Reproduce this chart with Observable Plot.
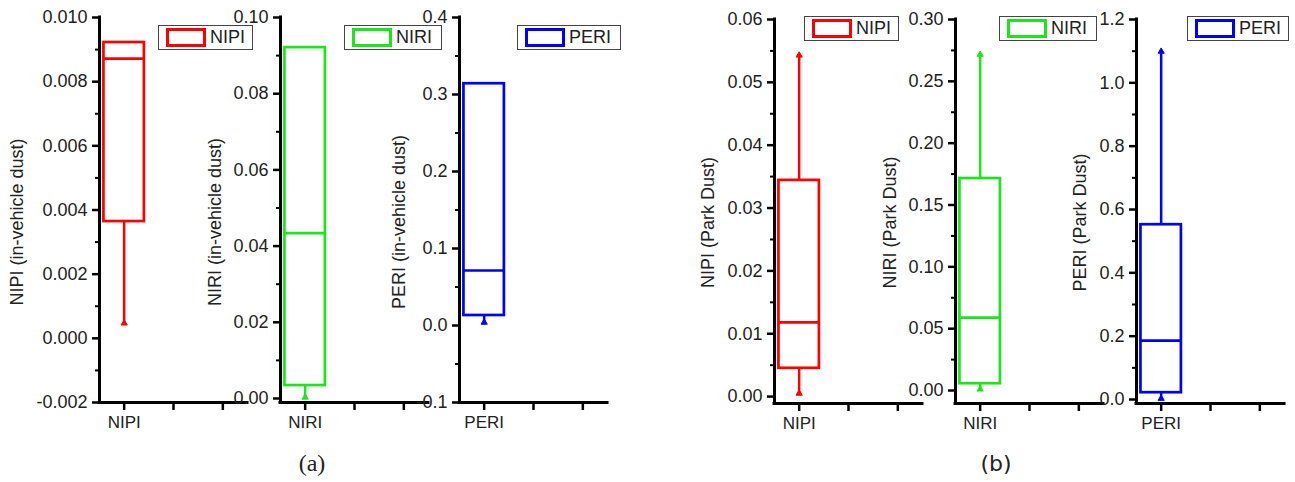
<!DOCTYPE html>
<html><head><meta charset="utf-8">
<script src="https://cdn.jsdelivr.net/npm/d3@7"></script>
<script src="https://cdn.jsdelivr.net/npm/@observablehq/plot@0.6"></script>
<style>
body{margin:0;background:#fff;}
#root{position:relative;width:1295px;height:482px;overflow:hidden;font-family:"Liberation Sans",Arial,sans-serif;background:#fff;}
.panel{position:absolute;top:0;}
.legend{position:absolute;border:1px solid #444;background:#fff;box-sizing:border-box;font-size:18px;color:#222;display:flex;align-items:center;}
.swatch{box-sizing:border-box;border:3px solid;height:19px;width:40px;margin-left:7px;margin-right:4px;}
.caption{position:absolute;color:#222;transform:translate(-50%,-50%);}
</style></head><body><div id="root"></div>
<script>
// ---------- data ----------
const categories = ["NIPI", "NIRI", "PERI"];
const vehicleTitles = ["NIPI (in-vehicle dust)", "NIRI (in-vehicle dust)", "PERI (in-vehicle dust)"];
const parkTitles = ["NIPI (Park Dust)", "NIRI (Park Dust)", "PERI (Park Dust)"];
const captions = ["(a)", "(b)"];

const vehicleMin    = [0.00047, 0.0003, 0.004];
const vehicleQ1     = [0.00364, 0.0034, 0.0130];
const vehicleMedian = [0.00872, 0.0434, 0.0714];
const vehicleQ3     = [0.00922, 0.0921, 0.314];
const vehicleMax    = [0.00922, 0.0921, 0.314];

const parkMin    = [0.0005, 0.0010, 0.003];
const parkQ1     = [0.0045, 0.0055, 0.0215];
const parkMedian = [0.0118, 0.0589, 0.186];
const parkQ3     = [0.0344, 0.1714, 0.552];
const parkMax    = [0.0543, 0.2717, 1.099];

const vehicleDomains = [[-0.002, 0.010], [-0.00105, 0.10], [-0.1, 0.4]];
const parkDomains    = [[-0.0011, 0.06], [-0.0105, 0.30], [-0.0126, 1.2]];
const vehicleTicks = [
  [-0.002, 0, 0.002, 0.004, 0.006, 0.008, 0.010],
  [0, 0.02, 0.04, 0.06, 0.08, 0.10],
  [-0.1, 0, 0.1, 0.2, 0.3, 0.4]
];
const parkTicks = [
  [0, 0.01, 0.02, 0.03, 0.04, 0.05, 0.06],
  [0, 0.05, 0.10, 0.15, 0.20, 0.25, 0.30],
  [0, 0.2, 0.4, 0.6, 0.8, 1.0, 1.2]
];
const vehicleDecimals = [3, 2, 1];
const parkDecimals = [2, 2, 1];
const xTickPositions = [1, 2, 3];

// ---------- styles / layout ----------
const colors = ["#ff0000", "#1be61b", "#0000ff"];
const layout = {
  vehicle: {axisX: [99, 280, 459], top: 17, bottom: 402, titleOff: [82, 65, 60], dy: 12,
            legend: [[158, 25, 95, 25], [344, 25, 98, 25], [517, 25, 104, 25]]},
  park:    {axisX: [774, 955, 1136], top: 19, bottom: 403, titleOff: [66, 65, 56], dy: 11,
            legend: [[804, 16, 95, 25], [999, 16, 98, 25], [1187, 16, 102, 25]]}
};

const root = document.getElementById("root");

function panel(opts) {
  const mL = 95, mR = 10, plotW = 148, mB = 45;
  const fmt = d => d3.format(`.${opts.dec}f`)(d).replace("\u2212", "-");
  const minor = d3.pairs(opts.ticks).map(([a, b]) => (a + b) / 2);
  const row = [{x: 1, min: opts.min, q1: opts.q1, med: opts.med, q3: opts.q3, max: opts.max}];
  const hw = 0.41;
  const marks = [
    Plot.axisY(minor, {tickSize: 4, strokeWidth: 2, tickFormat: () => "", label: null}),
    Plot.axisY(opts.ticks, {tickSize: 7, strokeWidth: 2.5, tickPadding: 5, tickFormat: fmt, label: null, fill: "#222", fontSize: 18}),
    Plot.axisX(xTickPositions, {tickSize: 8, strokeWidth: 2.5, tickPadding: 5, tickFormat: d => d === 1 ? opts.name : "", label: null, fill: "#222", fontSize: 17}),
    Plot.ruleX(row, {x: "x", y1: "min", y2: "q1", stroke: opts.color, strokeWidth: 2.5}),
    Plot.ruleX(row, {x: "x", y1: "q3", y2: "max", stroke: opts.color, strokeWidth: 2.5}),
    Plot.rect(row, {x1: d => d.x - hw, x2: d => d.x + hw, y1: "q1", y2: "q3", fill: "white", stroke: opts.color, strokeWidth: 2.7}),
    Plot.ruleY(row, {x1: d => d.x - hw, x2: d => d.x + hw, y: "med", stroke: opts.color, strokeWidth: 2.7}),
    Plot.dot(row, {x: "x", y: "min", symbol: "triangle", r: 2.3, fill: opts.color, stroke: opts.color, strokeWidth: 1})
  ];
  if (opts.max > opts.q3) {
    marks.push(Plot.dot(row, {x: "x", y: "max", symbol: "triangle", r: 2.3, fill: opts.color, stroke: opts.color, strokeWidth: 1}));
  }
  marks.push(
    Plot.ruleX([0.5], {stroke: "black", strokeWidth: 3, strokeLinecap: "square"}),
    Plot.ruleY([opts.domain[0]], {stroke: "black", strokeWidth: 3, strokeLinecap: "square"}),
    Plot.text([opts.title], {frameAnchor: "left", textAnchor: "middle", rotate: -90, dx: -opts.titleOff, dy: opts.dy, fontSize: 18, fill: "#222"})
  );
  const chart = Plot.plot({
    width: mL + plotW + mR, height: opts.bottom + mB,
    marginLeft: mL, marginRight: mR, marginTop: opts.top, marginBottom: mB,
    x: {domain: [0.5, 3.5]},
    y: {domain: opts.domain},
    style: {background: "transparent", overflow: "visible", fontFamily: "'Liberation Sans', Arial, sans-serif", fontSize: "17px", color: "#000"},
    marks
  });
  chart.classList.add("panel");
  chart.style.position = "absolute";
  chart.style.left = (opts.ax - mL) + "px";
  chart.style.top = "0px";
  root.appendChild(chart);

  const [lx, ly, lw, lh] = opts.legend;
  const lg = document.createElement("div");
  lg.className = "legend";
  Object.assign(lg.style, {left: lx + "px", top: ly + "px", width: lw + "px", height: lh + "px"});
  const sw = document.createElement("div");
  sw.className = "swatch";
  sw.style.borderColor = opts.color;
  lg.appendChild(sw);
  const tx = document.createElement("span");
  tx.textContent = opts.name;
  lg.appendChild(tx);
  root.appendChild(lg);
}

categories.forEach((name, i) => {
  panel({name, color: colors[i], title: vehicleTitles[i],
    min: vehicleMin[i], q1: vehicleQ1[i], med: vehicleMedian[i], q3: vehicleQ3[i], max: vehicleMax[i],
    domain: vehicleDomains[i], ticks: vehicleTicks[i], dec: vehicleDecimals[i],
    ax: layout.vehicle.axisX[i], top: layout.vehicle.top, bottom: layout.vehicle.bottom,
    titleOff: layout.vehicle.titleOff[i], dy: layout.vehicle.dy, legend: layout.vehicle.legend[i]});
  panel({name, color: colors[i], title: parkTitles[i],
    min: parkMin[i], q1: parkQ1[i], med: parkMedian[i], q3: parkQ3[i], max: parkMax[i],
    domain: parkDomains[i], ticks: parkTicks[i], dec: parkDecimals[i],
    ax: layout.park.axisX[i], top: layout.park.top, bottom: layout.park.bottom,
    titleOff: layout.park.titleOff[i], dy: layout.park.dy, legend: layout.park.legend[i]});
});

const capPos = [[312, 463, "'Liberation Serif', 'Times New Roman', serif", "24px"], [996, 463, "'DejaVu Sans', sans-serif", "22px"]];
captions.forEach((c, i) => {
  const d = document.createElement("div");
  d.className = "caption";
  d.textContent = c;
  Object.assign(d.style, {left: capPos[i][0] + "px", top: capPos[i][1] + "px", fontFamily: capPos[i][2], fontSize: capPos[i][3]});
  root.appendChild(d);
});
</script></body></html>
